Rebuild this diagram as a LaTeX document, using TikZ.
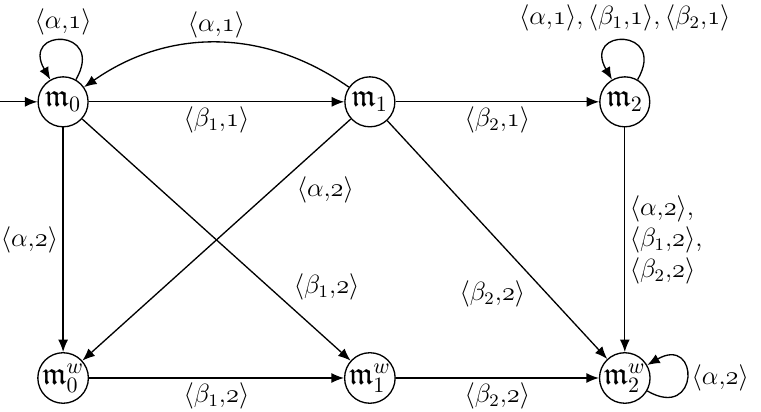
\documentclass[tikz,border=0pt]{standalone}
\usepackage{amsmath,amssymb}
\usetikzlibrary{arrows.meta,positioning}
\tikzset{
  st/.style={circle,draw,line width=0.6pt,minimum size=0.8cm,inner sep=0pt,font=\Large},
  tarr/.style={-{Latex[length=2mm,width=1.6mm]},line width=0.6pt},
  lbl/.style={inner sep=2pt,font=\large}
}
\newcommand{\tl}[2]{\langle #1{,}\mathnormal{#2}\rangle}

\begin{document}
\begin{tikzpicture}
  \useasboundingbox (0,0) rectangle (12.18,6.59);
  % states
  \node[st] (m0) at (1.01,4.96) {$\mathfrak{m}_0$};
  \node[st] (m1) at (5.92,4.96) {$\mathfrak{m}_1$};
  \node[st] (m2) at (10.0,4.96) {$\mathfrak{m}_2$};
  \node[st] (w0) at (1.01,0.54) {$\mathfrak{m}_0^w$};
  \node[st] (w1) at (5.92,0.54) {$\mathfrak{m}_1^w$};
  \node[st] (w2) at (10.0,0.54) {$\mathfrak{m}_2^w$};
  \coordinate (init) at (0,4.96);
  % top row
  \draw[tarr] (init) -- (m0);
  \draw[tarr] (m0) to[out=60,in=120,looseness=6] node[lbl,above] {$\tl{\alpha}{1}$} (m0);
  \draw[tarr] (m1) to[bend right=35] node[lbl,above] {$\tl{\alpha}{1}$} (m0);
  \draw[tarr] (m0) -- node[lbl,below] {$\tl{\beta_1}{1}$} (m1);
  \draw[tarr] (m1) -- node[lbl,below] {$\tl{\beta_2}{1}$} (m2);
  \draw[tarr] (m2) to[out=60,in=120,looseness=6]
    node[lbl,above=2pt] {$\tl{\alpha}{1},\tl{\beta_1}{1},\tl{\beta_2}{1}$} (m2);
  % down and across
  \draw[tarr] (m0) -- node[lbl,left] {$\tl{\alpha}{2}$} (w0);
  \draw[tarr] (m0) -- node[lbl,pos=0.77,above right] {$\tl{\beta_1}{2}$} (w1);
  \draw[tarr] (m1) -- node[lbl,pos=0.22,below right] {$\tl{\alpha}{2}$} (w0);
  \draw[tarr] (m1) -- node[lbl,pos=0.65,below left] {$\tl{\beta_2}{2}$} (w2);
  \draw[tarr] (m2) -- node[lbl,right,align=left]
    {$\tl{\alpha}{2}$,\\$\tl{\beta_1}{2}$,\\$\tl{\beta_2}{2}$} (w2);
  % bottom row
  \draw[tarr] (w0) -- node[lbl,below] {$\tl{\beta_1}{2}$} (w1);
  \draw[tarr] (w1) -- node[lbl,below] {$\tl{\beta_2}{2}$} (w2);
  \draw[tarr] (w2) to[out=-30,in=30,looseness=6] node[lbl,right] {$\tl{\alpha}{2}$} (w2);
\end{tikzpicture}
\end{document}
